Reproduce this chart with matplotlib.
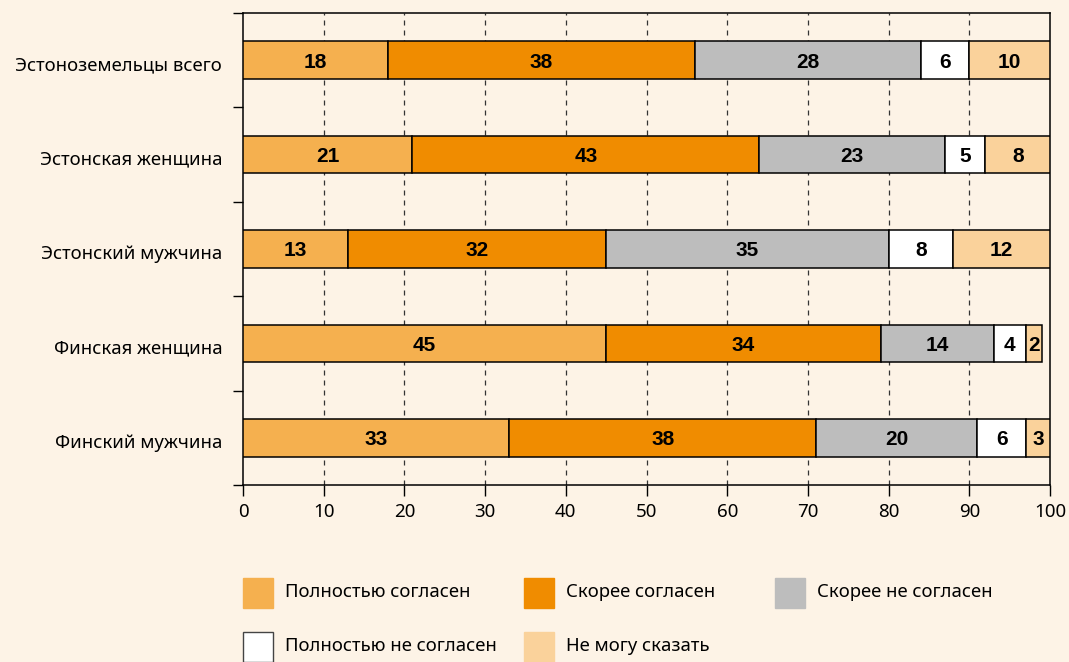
import numpy as np
import matplotlib
matplotlib.use("Agg")
import matplotlib.pyplot as plt
from matplotlib.patches import Rectangle

plt.rcParams['font.family'] = ['Noto Sans', 'DejaVu Sans']

groups = ["Эстоноземельцы всего", "Эстонская женщина", "Эстонский мужчина",
          "Финская женщина", "Финский мужчина"]
answers = ["Полностью согласен", "Скорее согласен", "Скорее не согласен",
           "Полностью не согласен", "Не могу сказать"]
fully_agree = [18, 21, 13, 45, 33]
rather_agree = [38, 43, 32, 34, 38]
rather_disagree = [28, 23, 35, 14, 20]
fully_disagree = [6, 5, 8, 4, 6]
cant_say = [10, 8, 12, 2, 3]

colors = ["#F5B04F", "#F08C00", "#BDBDBD", "#FFFFFF", "#FAD29B"]
BG = "#FDF3E6"

series = [fully_agree, rather_agree, rather_disagree, fully_disagree, cant_say]

fig = plt.figure(figsize=(10.69, 6.62), dpi=100, facecolor=BG)
ax = fig.add_axes([243 / 1069, 1 - 485 / 662, 807 / 1069, 472 / 662])
ax.set_facecolor(BG)

y = np.arange(len(groups))
left = np.zeros(len(groups))
for vals, col in zip(series, colors):
    vals = np.array(vals, dtype=float)
    bars = ax.barh(y, vals, left=left, height=0.4, color=col,
                   edgecolor="black", linewidth=1.1, zorder=3)
    for b, v in zip(bars, vals):
        ax.text(b.get_x() + b.get_width() / 2, b.get_y() + b.get_height() / 2 + 0.02,
                f"{v:.0f}", ha="center", va="center", fontsize=15,
                fontweight="bold", family="Liberation Sans", zorder=4)
    left += vals

ax.set_xlim(0, 100)
ax.set_ylim(len(groups) - 0.5, -0.5)
ax.set_xticks(np.arange(0, 101, 10))
ax.tick_params(axis="x", labelsize=13.5, length=8, width=1, pad=5)
for xv in range(10, 100, 10):
    ax.axvline(xv, color="#333333", linestyle=(0, (4, 4)), linewidth=0.9, zorder=1)

# category boundaries as ticks, names as minor ticks
ax.set_yticks(np.arange(-0.5, len(groups) + 0.5, 1))
ax.set_yticklabels([])
ax.tick_params(axis="y", which="major", length=7, width=1)
ax.set_yticks(y + 0.03, minor=True)
ax.set_yticklabels(groups, minor=True)
ax.tick_params(axis="y", which="minor", length=0, pad=15, labelsize=13.3)

for s in ax.spines.values():
    s.set_linewidth(1.1)

# legend
leg_pos = [(243, 578), (524, 578), (775, 578), (243, 632), (524, 632)]
for (px, py), lab, col in zip(leg_pos, answers, colors):
    fig.add_artist(Rectangle((px / 1069, 1 - (py + 30) / 662), 30 / 1069, 30 / 662,
                             transform=fig.transFigure, facecolor=col,
                             edgecolor="#444444" if col == "#FFFFFF" else col,
                             linewidth=1))
    fig.text((px + 42) / 1069, 1 - (py + 14) / 662, lab, fontsize=13.3,
             va="center", ha="left")

fig.savefig("out.png", dpi=100, facecolor=BG)
